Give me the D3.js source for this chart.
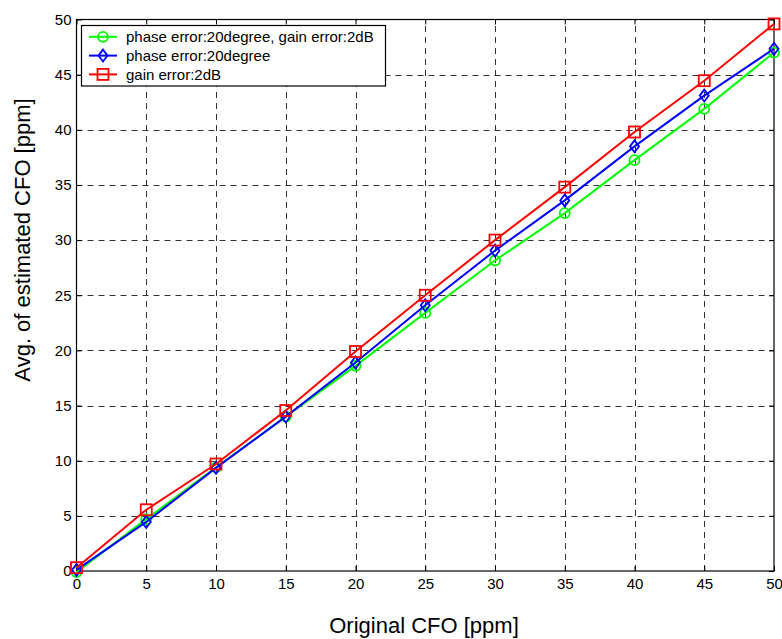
<!DOCTYPE html>
<html>
<head>
<meta charset="utf-8" />
<title>Avg. of estimated CFO</title>
<script src="https://d3js.org/d3.v7.min.js"></script>
<style>
  body { margin: 0; background: #ffffff; }
  svg { display: block; }
  text { font-family: "Liberation Sans", Arial, sans-serif; fill: #000; }
</style>
</head>
<body>
<svg id="viz"></svg>

<script>
// data
var cfo = [0, 5, 10, 15, 20, 25, 30, 35, 40, 45, 50];
var phaseGain = [-0.1, 4.7, 9.4, 14.0, 18.6, 23.4, 28.15, 32.45, 37.25, 41.9, 47.0];
var phaseOnly = [0.1, 4.45, 9.35, 14.0, 18.9, 24.1, 29.05, 33.6, 38.5, 43.1, 47.35];
var gainOnly = [0.3, 5.55, 9.7, 14.55, 19.9, 25.0, 30.0, 34.8, 39.8, 44.45, 49.6];
var xTicks = [0, 5, 10, 15, 20, 25, 30, 35, 40, 45, 50];
var yTicks = [0, 5, 10, 15, 20, 25, 30, 35, 40, 45, 50];
var seriesNames = ["phase error:20degree, gain error:2dB", "phase error:20degree", "gain error:2dB"];

var W = 782, H = 639;
var plotL = 76.5, plotR = 774, plotT = 19.5, plotB = 571;

var svg = d3.select("#viz").attr("width", W).attr("height", H);

var x = d3.scaleLinear().domain([0, 50]).range([plotL, plotR]);
var y = d3.scaleLinear().domain([0, 50]).range([plotB, plotT]);

//grid
var grid = svg.append("g").attr("stroke", "#333").attr("stroke-width", 1)
  .attr("stroke-dasharray", "6,5").attr("fill", "none");
grid.selectAll("line.vx").data(xTicks.slice(1, -1)).enter().append("line")
  .attr("x1", function(d) { return Math.round(x(d)) + 0.5; })
  .attr("x2", function(d) { return Math.round(x(d)) + 0.5; })
  .attr("y1", plotB).attr("y2", plotT);
grid.selectAll("line.hy").data(yTicks.slice(1, -1)).enter().append("line")
  .attr("y1", function(d) { return Math.round(y(d)) + 0.5; })
  .attr("y2", function(d) { return Math.round(y(d)) + 0.5; })
  .attr("x1", plotL).attr("x2", plotR);

//axes, MATLAB style ticks inside on all sides
function styleAxis(g) {
  g.select(".domain").remove();
  g.selectAll(".tick line").attr("stroke", "#000");
  g.selectAll(".tick text").attr("font-size", 15)
    .attr("font-family", "'Liberation Sans', Arial, sans-serif").attr("fill", "#000");
}
svg.append("g").attr("transform", "translate(0," + plotB + ")")
  .call(d3.axisBottom(x).tickValues(xTicks).tickSizeInner(-5).tickSizeOuter(0).tickPadding(7))
  .call(styleAxis);
svg.append("g").attr("transform", "translate(0," + plotT + ")")
  .call(d3.axisTop(x).tickValues(xTicks).tickSizeInner(-5).tickSizeOuter(0).tickFormat(""))
  .call(styleAxis);
svg.append("g").attr("transform", "translate(" + plotL + ",0)")
  .call(d3.axisLeft(y).tickValues(yTicks).tickSizeInner(-5).tickSizeOuter(0).tickPadding(5))
  .call(styleAxis);
svg.append("g").attr("transform", "translate(" + plotR + ",0)")
  .call(d3.axisRight(y).tickValues(yTicks).tickSizeInner(-5).tickSizeOuter(0).tickFormat(""))
  .call(styleAxis);

svg.append("rect").attr("x", plotL).attr("y", plotT)
  .attr("width", plotR - plotL).attr("height", plotB - plotT)
  .attr("fill", "none").attr("stroke", "#000").attr("stroke-width", 1.2);

//series
var series = [
  { name: seriesNames[0], values: phaseGain, color: "#00ff00", marker: "circle" },
  { name: seriesNames[1], values: phaseOnly, color: "#0000ff", marker: "diamond" },
  { name: seriesNames[2], values: gainOnly, color: "#ff0000", marker: "square" }
];

function drawMarker(g, type, cx, cy, color) {
  if (type == "circle") {
    g.append("circle").attr("cx", cx).attr("cy", cy).attr("r", 5)
      .attr("fill", "none").attr("stroke", color).attr("stroke-width", 1.8);
  } else if (type == "diamond") {
    g.append("path")
      .attr("d", "M" + cx + "," + (cy - 6) + "L" + (cx + 4.5) + "," + cy + "L" + cx + "," + (cy + 6) + "L" + (cx - 4.5) + "," + cy + "Z")
      .attr("fill", "none").attr("stroke", color).attr("stroke-width", 1.8);
  } else {
    g.append("rect").attr("x", cx - 5.5).attr("y", cy - 5.5).attr("width", 11).attr("height", 11)
      .attr("fill", "none").attr("stroke", color).attr("stroke-width", 1.8);
  }
}

var line = d3.line()
  .x(function(d, i) { return x(cfo[i]); })
  .y(function(d) { return y(d); });

series.forEach(function(s) {
  var g = svg.append("g");
  g.append("path").datum(s.values).attr("d", line)
    .attr("fill", "none").attr("stroke", s.color).attr("stroke-width", 2);
  s.values.forEach(function(v, i) {
    drawMarker(g, s.marker, x(cfo[i]), y(v), s.color);
  });
});

//legend
var legend = svg.append("g");
legend.append("rect").attr("x", 81.5).attr("y", 25.5).attr("width", 304).attr("height", 60.5)
  .attr("fill", "#fff").attr("stroke", "#000").attr("stroke-width", 1.2);
series.forEach(function(s, i) {
  var ly = 36.8 + i * 18.8;
  legend.append("line").attr("x1", 89).attr("x2", 117).attr("y1", ly).attr("y2", ly)
    .attr("stroke", s.color).attr("stroke-width", 2);
  drawMarker(legend, s.marker, 103, ly, s.color);
  legend.append("text").attr("x", 126).attr("y", ly + 5.2).attr("font-size", 15).text(s.name);
});

//axis labels
svg.append("text").attr("x", 424).attr("y", 633).attr("text-anchor", "middle")
  .attr("font-size", 22).text("Original CFO [ppm]");
svg.append("text").attr("transform", "translate(30,240) rotate(-90)").attr("text-anchor", "middle")
  .attr("font-size", 22).text("Avg. of estimated CFO [ppm]");
</script>
</body>
</html>
